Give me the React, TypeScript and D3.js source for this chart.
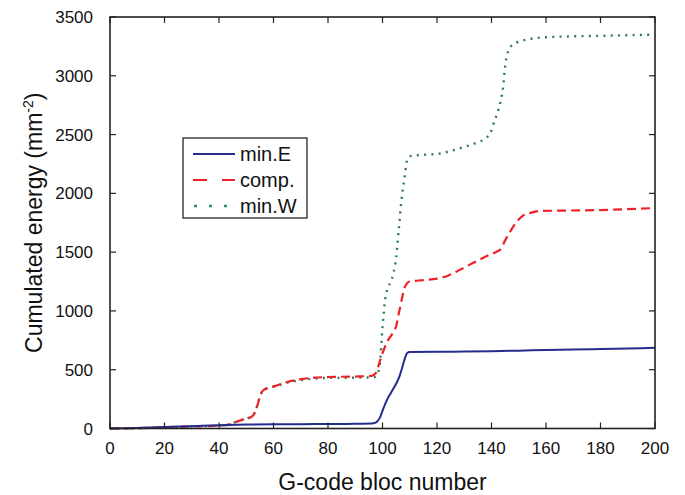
import React from "react";
import * as d3 from "d3";

const xTicks = [0, 20, 40, 60, 80, 100, 120, 140, 160, 180, 200];
const yTicks = [0, 500, 1000, 1500, 2000, 2500, 3000, 3500];

const minE: [number, number][] = [
  [0, 0], [10, 5], [20, 12], [30, 20], [40, 28], [50, 33], [60, 36], [70, 37], [80, 38], [90, 40], [96, 42],
  [97.5, 50], [99, 90], [100, 150], [101, 210], [102, 260], [103, 300], [104, 340], [105, 380], [106, 430],
  [107, 500], [108, 580], [109, 640], [110, 650], [120, 652], [130, 654], [140, 657], [150, 662], [160, 668],
  [170, 672], [180, 676], [190, 681], [200, 686],
];

const comp: [number, number][] = [
  [0, 0], [10, 3], [20, 10], [30, 18], [40, 24], [44, 35], [46, 55], [48, 70], [50, 85], [52, 100], [53, 130],
  [54, 190], [55, 270], [56, 320], [58, 345], [60, 358], [65, 395], [70, 420], [75, 432], [80, 438], [90, 442],
  [96, 448], [97.5, 470], [99, 570], [100, 640], [101, 700], [102, 750], [104, 820], [105, 870], [106, 980],
  [107, 1090], [108, 1190], [109, 1235], [110, 1250], [115, 1262], [120, 1275], [124, 1300], [128, 1345],
  [133, 1405], [139, 1475], [142, 1505], [143.5, 1530], [145, 1600], [147, 1680], [149, 1750], [151, 1800],
  [154, 1832], [158, 1850], [165, 1853], [180, 1858], [200, 1875],
];

const minW: [number, number][] = [
  [0, 0], [10, 3], [20, 10], [30, 18], [40, 24], [44, 35], [46, 55], [48, 70], [50, 85], [52, 100], [53, 130],
  [54, 190], [55, 270], [56, 320], [58, 345], [60, 355], [65, 390], [70, 412], [75, 425], [80, 430], [90, 432],
  [97, 436], [98, 460], [99, 540], [100, 860], [101, 1100], [102, 1200], [103, 1245], [104, 1320], [105, 1450],
  [106, 1700], [107, 1950], [108, 2120], [109, 2280], [110, 2315], [113, 2325], [120, 2335], [125, 2360],
  [130, 2395], [135, 2435], [138, 2470], [139.5, 2510], [141, 2610], [142.5, 2710], [143.5, 2800], [144.3, 2910],
  [145, 3080], [146, 3200], [147.5, 3260], [150, 3290], [153, 3308], [160, 3328], [180, 3340], [200, 3350],
];

const legendLabels = ["min.E", "comp.", "min.W"];

export default function App() {
  const left = 110, right = 655, top = 17, bottom = 428.5;
  const x = d3.scaleLinear().domain([0, 200]).range([left, right]);
  const y = d3.scaleLinear().domain([0, 3500]).range([bottom, top]);
  const line = d3
    .line<[number, number]>()
    .x((d) => x(d[0]))
    .y((d) => y(d[1]))
    .curve(d3.curveMonotoneX);

  const font = "'Liberation Sans', Arial, Helvetica, sans-serif";
  const axisColor = "#222";
  const blue = "#252d8c";
  const red = "#ee2228";
  const green = "#2f7a5c";
  const greenLeg = "#1f9a55";

  const legX = 183, legY = 138, legW = 124, legH = 80;
  const legRows = [154, 180, 206];

  return (
    <svg width={685} height={495} style={{ position: "absolute", left: 0, top: 0, display: "block" }} fontFamily={font}>
      <rect x={0} y={0} width={685} height={495} fill="#fff" />
      {/* lines */}
      <path d={line(minW) || ""} fill="none" stroke={green} strokeWidth={2.4} strokeDasharray="2 5.3" strokeLinecap="butt" />
      <path d={line(comp) || ""} fill="none" stroke={red} strokeWidth={2.2} strokeDasharray="9 5" />
      <path d={line(minE) || ""} fill="none" stroke={blue} strokeWidth={2} />

      {/* box */}
      <rect x={left} y={top} width={right - left} height={bottom - top} fill="none" stroke={axisColor} strokeWidth={1.6} />
      {xTicks.map((t) => (
        <g key={"x" + t}>
          <line x1={x(t)} x2={x(t)} y1={bottom} y2={bottom - 6} stroke={axisColor} strokeWidth={1.2} />
          <line x1={x(t)} x2={x(t)} y1={top} y2={top + 6} stroke={axisColor} strokeWidth={1.2} />
          <text x={x(t)} y={454} textAnchor="middle" fontSize={17} fill="#111">
            {t}
          </text>
        </g>
      ))}
      {yTicks.map((t) => (
        <g key={"y" + t}>
          <line x1={left} x2={left + 6} y1={y(t)} y2={y(t)} stroke={axisColor} strokeWidth={1.2} />
          <line x1={right} x2={right - 6} y1={y(t)} y2={y(t)} stroke={axisColor} strokeWidth={1.2} />
          <text x={93} y={y(t) + 6} textAnchor="end" fontSize={17} fill="#111">
            {t}
          </text>
        </g>
      ))}

      {/* axis titles */}
      <text x={(left + right) / 2} y={490} textAnchor="middle" fontSize={23} fill="#111">
        G-code bloc number
      </text>
      <text transform={`translate(42,${(top + bottom) / 2}) rotate(-90)`} textAnchor="middle" fontSize={23} fill="#111">
        Cumulated energy (mm
        <tspan dy={-9} fontSize={14}>-2</tspan>
        <tspan dy={9}>)</tspan>
      </text>

      {/* legend */}
      <rect x={legX} y={legY} width={legW} height={legH} fill="#fff" stroke="#111" strokeWidth={1.2} />
      <line x1={193} x2={235} y1={legRows[0]} y2={legRows[0]} stroke={blue} strokeWidth={2} />
      <line x1={193} x2={235} y1={legRows[1]} y2={legRows[1]} stroke={red} strokeWidth={2.2} strokeDasharray="14 15" />
      <line x1={194} x2={235} y1={legRows[2]} y2={legRows[2]} stroke={greenLeg} strokeWidth={2.6} strokeDasharray="3 12" />
      {legendLabels.map((l, i) => (
        <text key={l} x={240} y={legRows[i] + 7} fontSize={20} fill="#111">
          {l}
        </text>
      ))}
    </svg>
  );
}
